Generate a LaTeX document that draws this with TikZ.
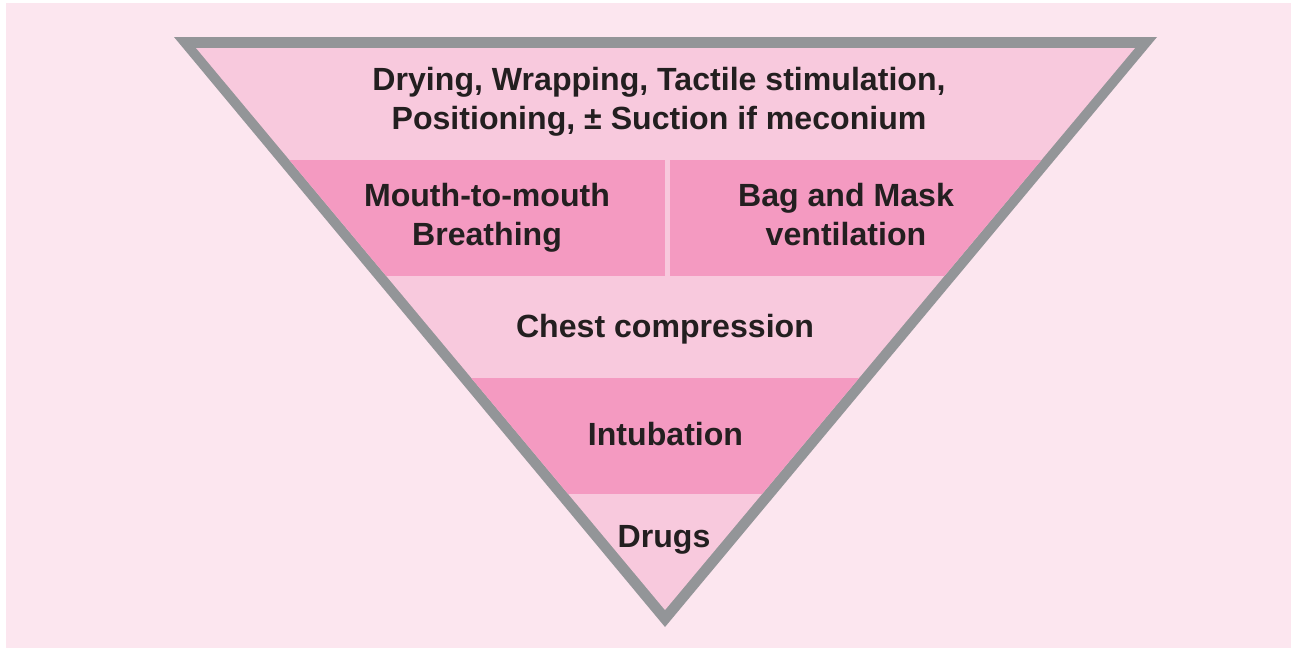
\documentclass[tikz,border=0pt]{standalone}
\usepackage{fontspec}
\setmainfont{Liberation Sans}

\definecolor{bgpink}{HTML}{FCE6EF}
\definecolor{lightpink}{HTML}{F8C9DD}
\definecolor{darkpink}{HTML}{F49AC1}
\definecolor{rimgray}{HTML}{939598}
\definecolor{txtdark}{HTML}{231F20}

\tikzset{tiertext/.style={font=\bfseries\fontsize{16.05}{19.5}\selectfont, text=txtdark, align=center, inner sep=0pt}}

\begin{document}
\begin{tikzpicture}[x=0.5pt,y=-0.5pt]

\useasboundingbox (0,0) rectangle (1291,648);
\fill[white] (0,0) rectangle (1291,648);
\fill[bgpink] (6,3) rectangle (1291,648);

\fill[rimgray] (174,37) -- (1157,37) -- (665,627) -- cycle;
\fill[lightpink] (196,48) -- (1135,48) -- (665,610) -- cycle;

\begin{scope}
\clip (196,48) -- (1135,48) -- (665,610) -- cycle;
\fill[darkpink] (150,160) rectangle (665,276);
\fill[darkpink] (670,160) rectangle (1180,276);
\fill[darkpink] (150,378) rectangle (1180,494);
\end{scope}

\node[tiertext] (drying) at (659,101.5) {Drying, Wrapping, Tactile stimulation,\\Positioning, ± Suction if meconium};
\node[tiertext] (mouth) at (487,218) {Mouth-to-mouth\\Breathing};
\node[tiertext] (bagmask) at (846,214.6) {Bag and Mask\\ventilation};
\node[tiertext,anchor=base] (chest) at (665,337) {Chest compression};
\node[tiertext,anchor=base] (intub) at (665.5,445) {Intubation};
\node[tiertext,anchor=base] (drugs) at (664,547) {Drugs};

\end{tikzpicture}
\end{document}
